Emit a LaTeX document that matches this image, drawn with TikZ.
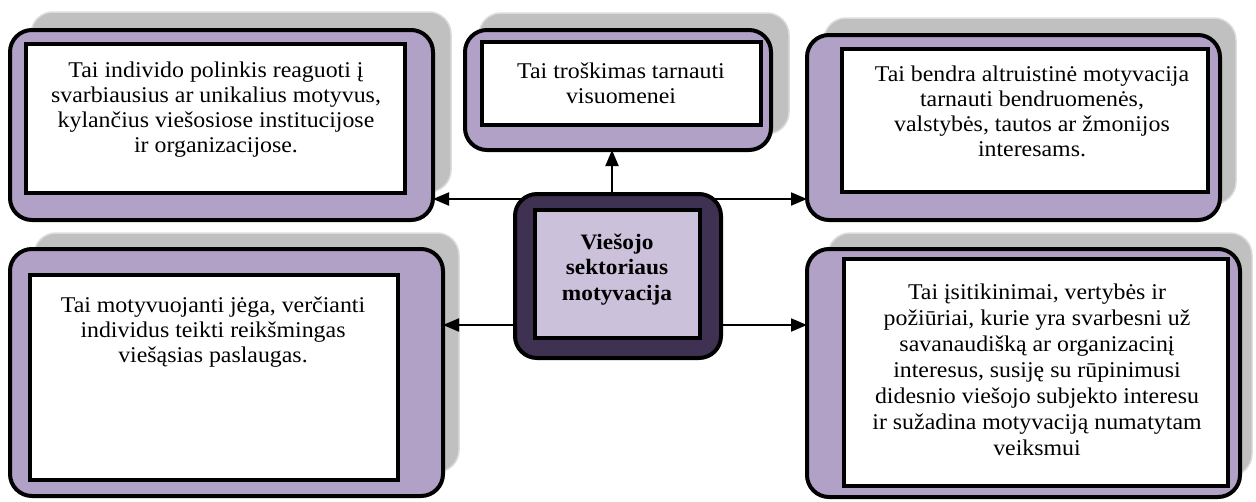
\documentclass[tikz,border=0pt]{standalone}
\usepackage{fontspec}
\setmainfont[FakeStretch=1.06]{Liberation Serif}
\usetikzlibrary{fit,arrows.meta}
\definecolor{shadowgray}{HTML}{C0C0C0}
\definecolor{shadowedge}{HTML}{DCDCDC}
\definecolor{lilac}{HTML}{B2A1C7}
\definecolor{darkplum}{HTML}{3F3151}
\definecolor{paleplum}{HTML}{CCC1DA}
\newcommand{\mylines}[1]{\begin{tabular}[t]{@{}c@{}}#1\end{tabular}}
\begin{document}
\begin{tikzpicture}[x=1pt,y=-1pt,
  shadowbox/.style={fill=shadowgray, draw=shadowedge, line width=1.5pt, rounded corners=22pt, inner sep=0pt, outer sep=0pt},
  outerbox/.style={fill=lilac, draw=black, line width=4pt, rounded corners=22pt, inner sep=0pt, outer sep=0pt},
  innerbox/.style={fill=white, draw=black, line width=4pt, inner sep=0pt, outer sep=0pt},
  centerouter/.style={fill=darkplum, draw=black, line width=4pt, rounded corners=22pt, inner sep=0pt, outer sep=0pt},
  centerinner/.style={fill=paleplum, draw=black, line width=4pt, inner sep=0pt, outer sep=0pt},
  txt/.style={inner sep=0pt, anchor=base, font=\fontsize{22.5}{25}\selectfont},
  txtb/.style={inner sep=0pt, anchor=base, font=\fontsize{22.5}{26}\selectfont},
  ctxt/.style={inner sep=0pt, anchor=base, font=\fontsize{22}{25.5}\selectfont\bfseries},
  conn/.style={line width=2pt, -{Triangle[length=16pt,width=13pt]}}
]
\useasboundingbox (0,0) rectangle (1256,501);
% shadows
\node[shadowbox, fit={(31,12) (451,192)}] (stl) {};
\node[shadowbox, fit={(479,13) (789,134)}] (stm) {};
\node[shadowbox, fit={(824,18) (1236,204)}] (str) {};
\node[shadowbox, fit={(34,233) (459,472)}] (sbl) {};
\node[shadowbox, fit={(828,233) (1252,476)}] (sbr) {};
% outer boxes
\node[outerbox, fit={(10,30) (433,220)}] (tl) {};
\node[outerbox, fit={(465,30) (771,150)}] (tm) {};
\node[outerbox, fit={(807,35) (1220,220)}] (tr) {};
\node[outerbox, fit={(10,249) (443,496)}] (bl) {};
\node[outerbox, fit={(807,249) (1240,497)}] (br) {};
% inner boxes
\node[innerbox, fit={(26,44) (405,193)}] (itl) {};
\node[innerbox, fit={(482,42) (761,125)}] (itm) {};
\node[innerbox, fit={(842,49) (1208,192)}] (itr) {};
\node[innerbox, fit={(30,275) (398,480)}] (ibl) {};
\node[innerbox, fit={(844,259) (1228,486)}] (ibr) {};
% texts
\node[txt] (ttl) at (216,77) {\mylines{Tai individo polinkis reaguoti į\\svarbiausius ar unikalius motyvus,\\kylančius viešosiose institucijose\\ir organizacijose.}};
\node[txt] (ttm) at (621,78) {\mylines{Tai troškimas tarnauti\\visuomenei}};
\node[txt] (ttr) at (1032,81) {\mylines{Tai bendra altruistinė motyvacija\\tarnauti bendruomenės,\\valstybės, tautos ar žmonijos\\interesams.}};
\node[txt] (tbl) at (213,312) {\mylines{Tai motyvuojanti jėga, verčianti\\individus teikti reikšmingas\\viešąsias paslaugas.}};
\node[txtb] (tbr) at (1037,299) {\mylines{Tai įsitikinimai, vertybės ir\\požiūriai, kurie yra svarbesni už\\savanaudišką ar organizacinį\\interesus, susiję su rūpinimusi\\didesnio viešojo subjekto interesu\\ir sužadina motyvaciją numatytam\\veiksmui}};
% center point for connectors
\coordinate (cc) at (618,276);
% connectors
\draw[conn] (cc |- 0,199) -- (tl.east |- 0,199);
\draw[conn] (cc |- 0,199) -- (tr.west |- 0,199);
\draw[conn] (cc |- 0,325) -- (bl.east |- 0,325);
\draw[conn] (cc |- 0,325) -- (br.west |- 0,325);
\draw[conn] (612,276) -- (tm.south -| 612,0);
% center box
\node[centerouter, fit={(515,194) (721,358)}] (c) {};
\node[centerinner, fit={(535,210) (700,338)}] (ci) {};
\node[ctxt] (tc) at (617,249) {\mylines{Viešojo\\sektoriaus\\motyvacija}};
\end{tikzpicture}
\end{document}
